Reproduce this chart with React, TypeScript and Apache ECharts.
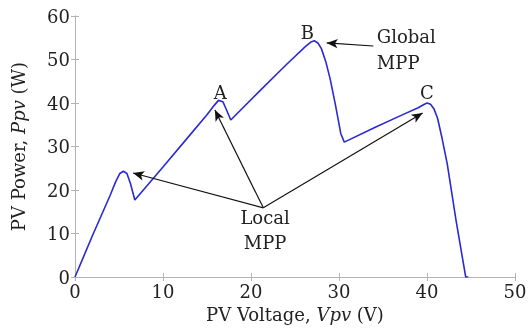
import React, { useEffect, useRef } from "react";
import * as echarts from "echarts";

const voltage = [0, 1, 2, 3, 4, 4.6, 5.1, 5.5, 5.9, 6.3, 6.8, 10, 13, 15, 15.8, 16.3, 16.8, 17.2, 17.7, 21, 24, 26.2, 26.8, 27.2, 27.6, 28.0, 28.5, 29.0, 29.6, 30.2, 30.6, 34, 37, 39, 39.6, 40.0, 40.4, 40.8, 41.2, 41.7, 42.3, 43.3, 44.4, 44.7];
const power = [0, 4.8, 9.6, 14.2, 18.8, 21.8, 23.8, 24.3, 23.8, 21.5, 17.7, 25.3, 32.5, 37.3, 39.4, 40.6, 40.3, 38.5, 36.1, 42.8, 48.8, 53.0, 54.0, 54.3, 53.8, 52.5, 49.5, 45.5, 39.5, 33, 31, 34.3, 37.1, 38.9, 39.6, 40.0, 39.7, 38.6, 36.5, 32, 26, 13, 0, 0];

const xTicks = [0, 10, 20, 30, 40, 50];
const yTicks = [0, 10, 20, 30, 40, 50, 60];

// annotation anchors (data coordinates)
const pointLabels = [
  { name: "A", x: 16.5, y: 42.3 },
  { name: "B", x: 26.4, y: 56.1 },
  { name: "C", x: 40.0, y: 42.5 },
];
const localOrigin = [21.4, 15.9];
const localTips = [
  [6.6, 23.9],
  [15.9, 38.4],
  [39.5, 37.7],
];
const localText = { text: "Local\nMPP", x: 21.6, y: 10.9 };
const globalArrow = { from: [33.9, 53.1], to: [28.6, 53.8] };
const globalText = { text: "Global\nMPP", x: 34.3, y: 52.2 };

const FONT = "DejaVu Serif";

export default function App() {
  const ref = useRef<HTMLDivElement>(null);
  useEffect(() => {
    if (!ref.current) return;
    const chart = echarts.init(ref.current, undefined, { renderer: "svg" });
    const axisCommon = {
      type: "value",
      axisLine: { show: true, lineStyle: { color: "#b4b4b4", width: 1 } },
      axisTick: { show: true, inside: true, length: 4, lineStyle: { color: "#b4b4b4" } },
      splitLine: { show: false },
    };
    const arrowLines: any[] = localTips.map((t) => [
      { coord: localOrigin, symbol: "none" },
      { coord: t, symbol: "arrow" },
    ]);
    arrowLines.push([
      { coord: globalArrow.from, symbol: "none" },
      { coord: globalArrow.to, symbol: "arrow" },
    ]);
    const textStyle = { fontFamily: FONT, fontSize: 18, color: "#222" };
    chart.setOption({
      animation: false,
      grid: { left: 75, right: 13, top: 16, bottom: 51, show: false, outerBoundsMode: "none", containLabel: false },
      xAxis: [
        {
          ...axisCommon,
          min: 0,
          max: 50,
          interval: 10,
          axisLabel: { ...textStyle, margin: 5, formatter: (v: number) => (xTicks.includes(v) ? String(v) : "") },
          name: "PV Voltage, {i|Vpv} (V)",
          nameLocation: "middle",
          nameGap: 28,
          nameTextStyle: { ...textStyle, rich: { i: { ...textStyle, fontStyle: "italic" } } },
        },
        { ...axisCommon, position: "top", min: 0, max: 50, interval: 10, axisLabel: { show: false } },
      ],
      yAxis: [
        {
          ...axisCommon,
          min: 0,
          max: 60,
          interval: 10,
          axisLabel: { ...textStyle, margin: 5, formatter: (v: number) => (yTicks.includes(v) ? String(v) : "") },
          name: "PV Power, {i|Ppv} (W)",
          nameLocation: "middle",
          nameGap: 48,
          nameTextStyle: { ...textStyle, rich: { i: { ...textStyle, fontStyle: "italic" } } },
        },
        { ...axisCommon, position: "right", min: 0, max: 60, interval: 10, axisLabel: { show: false } },
      ],
      series: [
        {
          type: "line",
          data: voltage.map((v, i) => [v, power[i]]),
          showSymbol: false,
          symbol: "none",
          lineStyle: { color: "#2a2ad2", width: 1.6 },
          markLine: {
            silent: true,
            symbolSize: [7, 11],
            lineStyle: { color: "#111", width: 1.2, type: "solid" },
            label: { show: false },
            data: arrowLines,
          },
          markPoint: {
            silent: true,
            symbol: "circle",
            symbolSize: 0,
            data: [
              ...pointLabels.map((p) => ({
                coord: [p.x, p.y],
                label: { show: true, formatter: p.name, position: "inside", ...textStyle },
              })),
              {
                coord: [localText.x, localText.y],
                label: { show: true, formatter: localText.text, position: "inside", align: "center", lineHeight: 25, ...textStyle },
              },
              {
                coord: [globalText.x, globalText.y],
                label: { show: true, formatter: globalText.text, position: "inside", align: "left", lineHeight: 26, ...textStyle },
              },
            ],
          },
        },
      ],
    });
    return () => chart.dispose();
  }, []);
  return <div ref={ref} style={{ position: "fixed", left: 0, top: 0, width: 528, height: 328 }} />;
}
